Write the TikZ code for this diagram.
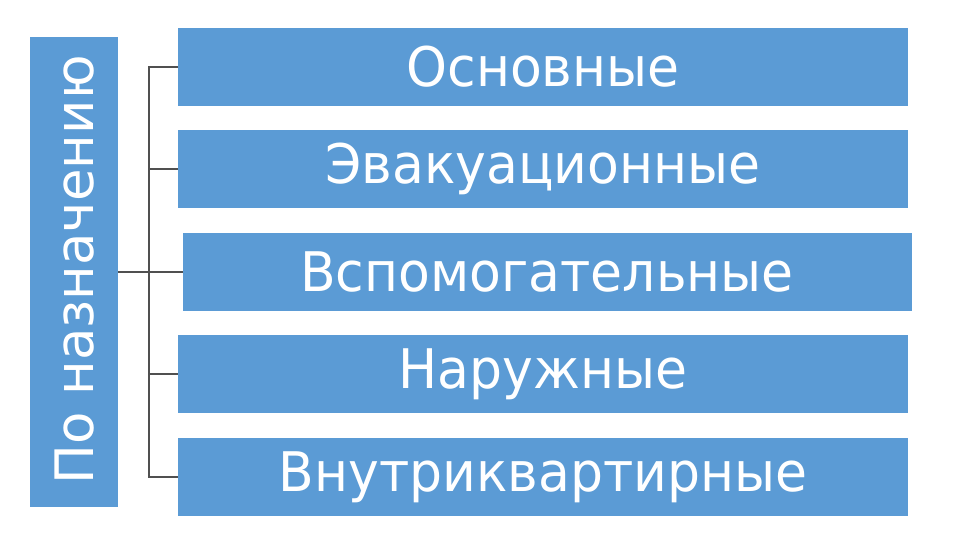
\documentclass[tikz,border=0pt]{standalone}
\usepackage{fontspec}
\setmainfont{DejaVu Sans}
\definecolor{boxblue}{HTML}{5B9BD5}
\definecolor{linegray}{HTML}{505050}
\begin{document}
\begin{tikzpicture}[x=1pt,y=-1pt,
  conn/.style={draw=linegray, line width=1.1pt}]
\useasboundingbox[fill=white] (0,0) rectangle (960,540);
% left box
\fill[boxblue] (30,37) rectangle (118,507);
\node[rotate=90, text=white, font=\fontsize{53}{60}\selectfont, inner sep=0pt] (L) at (75,270) {По назначению};
\coordinate (Lr) at (118,272);
% right boxes
\fill[boxblue] (178,28) rectangle (908,106);
\fill[boxblue] (178,130) rectangle (908,208);
\fill[boxblue] (183,233) rectangle (912,311);
\fill[boxblue] (178,335) rectangle (908,413);
\fill[boxblue] (178,438) rectangle (908,516);
\tikzset{lbl/.style={text=white, font=\fontsize{52}{60}\selectfont, inner sep=0pt, anchor=center, yscale=1.05}}
\node[lbl] (b1) at (543,67) {Основные};
\node[lbl] (b2) at (543,169) {Эвакуационные};
\node[lbl] (b3) at (547,272) {Вспомогательные};
\node[lbl] (b4) at (543,374) {Наружные};
\node[lbl] (b5) at (543,477) {Внутриквартирные};
\coordinate (e1) at (178,67);
\coordinate (e2) at (178,169);
\coordinate (e3) at (183,272);
\coordinate (e4) at (178,374);
\coordinate (e5) at (178,477);
\coordinate (v1) at (149,67);
\coordinate (v2) at (149,169);
\coordinate (v4) at (149,374);
\coordinate (v5) at (149,477);
\draw[conn] (e1) -- (v1) -- (v5) -- (e5);
\draw[conn] (v2) -- (e2);
\draw[conn] (v4) -- (e4);
\draw[conn] (Lr) -- (e3);
\end{tikzpicture}
\end{document}
